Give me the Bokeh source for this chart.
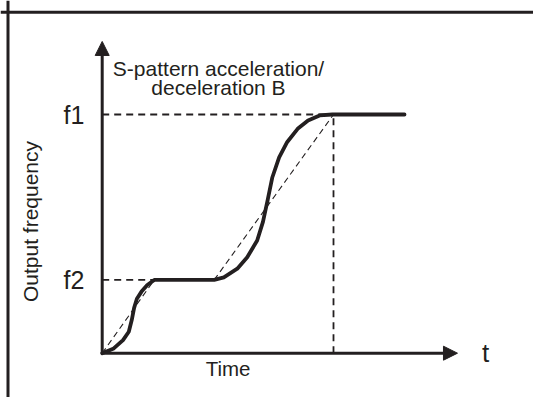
from bokeh.plotting import figure
from bokeh.models import Span, Arrow, NormalHead
from bokeh.core.properties import value
from bokeh.embed import file_html
from bokeh.resources import INLINE

# ---- data (schematic units: time 0..100 reaches f1, frequency f1 = 100) ----
time_accel1 = [0, 5.0, 9.0, 11.5, 12.8, 13.8, 15.0, 17.0, 19.5, 22.5]
freq_accel1 = [0, 2.0, 5.5, 9.0, 14.0, 19.0, 22.8, 25.8, 28.6, 30.7]
time_accel2 = [48.4, 52.6, 58.4, 62.7, 67.0, 69.5, 71.5, 73.5, 76.5, 80.0, 84.5, 89.0, 94.0, 99.5]
freq_accel2 = [30.7, 31.8, 35.4, 40.2, 47.2, 55.0, 64.0, 73.5, 82.0, 88.5, 94.0, 97.5, 99.6, 100]
F1 = 100.0
F2 = 30.7
T_F2_START = 22.5
T_F2_END = 48.4
T_F1 = 100.0
T_HOLD_END = 130.7
T_AXIS_END = 153.6
F_AXIS_END = 130.6

level_labels = ["f1", "f2"]
title_lines = ["S-pattern acceleration/", "deceleration B"]
x_label = "Time"
y_label = "Output frequency"
t_label = "t"

FONT = value("Liberation Sans")
INK = "#231f20"

# pixel scale: origin at (101.7, 352.7), 2.313 px per time unit, 2.387 px per freq unit
W, H = 533, 397
OX, OY, SX, SY = 101.7, 352.7, 2.313, 2.387
x0, x1 = -OX / SX, (W - OX) / SX
y1, y0 = OY / SY, (OY - H) / SY

def dx(px):
    return (px - OX) / SX

def dy(py):
    return (OY - py) / SY

p = figure(width=W, height=H, x_range=(x0, x1), y_range=(y0, y1),
           output_backend="svg", toolbar_location=None, min_border=0,
           x_axis_type=None, y_axis_type=None)
p.grid.visible = False
p.outline_line_color = None
p.background_fill_color = "white"
p.border_fill_color = "white"

# page frame (top and left)
p.add_layout(Span(location=dy(11.75), dimension="width", line_color=INK, line_width=3))
p.add_layout(Span(location=dx(7.5), dimension="height", line_color=INK, line_width=3))

# reference dashed lines
p.line([0, T_F1], [F1, F1], line_color=INK, line_width=1.8, line_dash="7 5")
p.line([0, T_F2_START], [F2, F2], line_color=INK, line_width=1.8, line_dash="7 5")
p.line([T_F1, T_F1], [0, F1], line_color=INK, line_width=1.8, line_dash="7 5")

# linear accel (thin dashed)
p.line([0, T_F2_START], [0, F2], line_color=INK, line_width=1.1, line_dash="6 4")
p.line([T_F2_END, T_F1], [F2, F1], line_color=INK, line_width=1.1, line_dash="6 4")

# S-pattern curve
curve_t = time_accel1 + time_accel2 + [T_HOLD_END]
curve_f = freq_accel1 + freq_accel2 + [F1]
p.line(curve_t, curve_f, line_color=INK, line_width=3.8, line_join="round", line_cap="round")

# axes with arrows
p.add_layout(Arrow(end=NormalHead(size=14, fill_color=INK, line_color=INK),
                   x_start=0, y_start=0, x_end=T_AXIS_END, y_end=0,
                   line_color=INK, line_width=3))
p.add_layout(Arrow(end=NormalHead(size=14, fill_color=INK, line_color=INK),
                   x_start=0, y_start=0, x_end=0, y_end=F_AXIS_END,
                   line_color=INK, line_width=3))

# texts
p.text(x=[dx(73.5)] * 2, y=[F1, F2], text=level_labels, text_font=FONT,
       text_font_size="25px", text_align="center", text_baseline="middle", text_color=INK)
p.text(x=[dx(218)] * 2, y=[dy(68), dy(87)], text=title_lines, text_font=FONT,
       text_font_size="21px", text_align="center", text_baseline="middle", text_color=INK)
p.text(x=[dx(227.6)], y=[dy(368)], text=[x_label], text_font=FONT,
       text_font_size="20.5px", text_align="center", text_baseline="middle", text_color=INK)
p.text(x=[dx(485)], y=[0], text=[t_label], text_font=FONT,
       text_font_size="26px", text_align="center", text_baseline="middle", text_color=INK)
p.text(x=[dx(30)], y=[dy(221)], text=[y_label], text_font=FONT, angle=1.5708,
       text_font_size="21px", text_align="center", text_baseline="middle", text_color=INK)

open("out.html", "w").write(file_html(p, INLINE))
